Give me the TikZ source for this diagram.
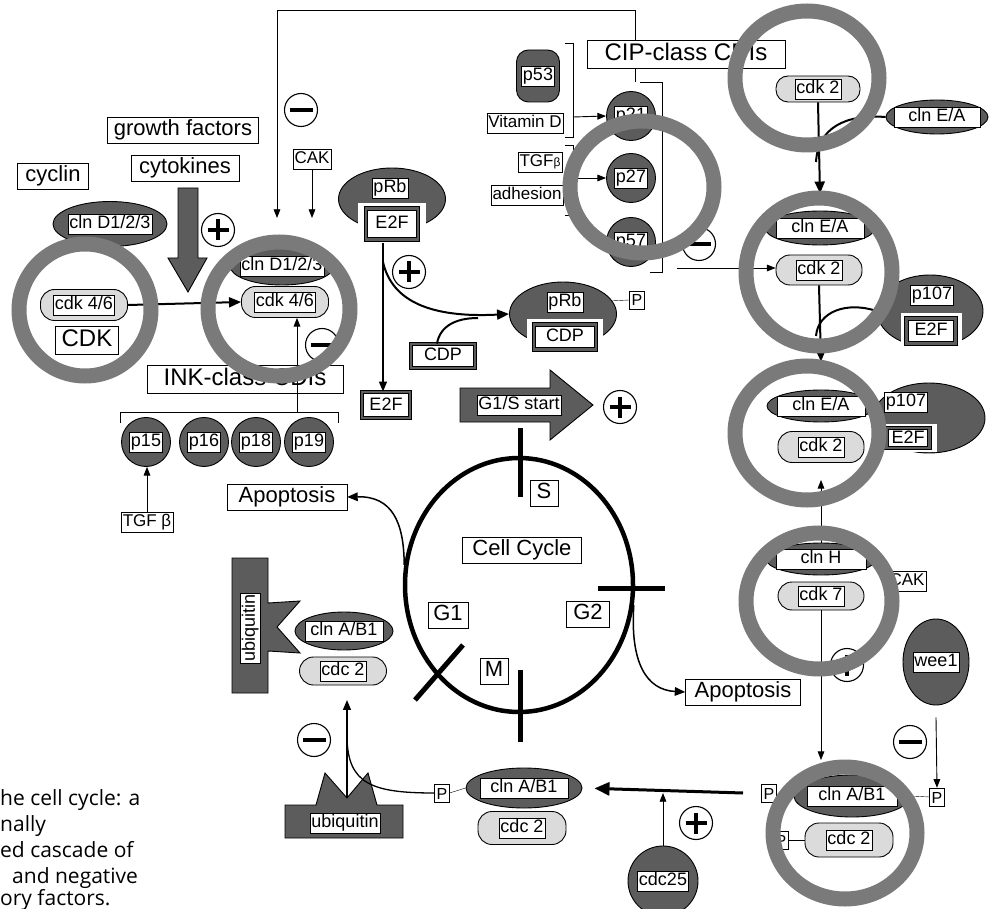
\documentclass[tikz,border=0pt]{standalone}
\usepackage{fontspec}
\setmainfont{Liberation Sans}
\newfontfamily\capfont{Open Sans}
\usetikzlibrary{shapes.geometric,arrows.meta}
\definecolor{dk}{gray}{0.36}
\definecolor{lt}{gray}{0.86}
\definecolor{ringc}{gray}{0.48}

\begin{document}
\begin{tikzpicture}[x=1pt, y=-1pt,
	cyclin/.style={ ellipse, draw, fill=dk, line width=0.9pt, inner sep=0pt },
	cdk/.style={ rectangle, rounded corners=14pt, draw, fill=lt, line width=0.9pt, minimum width=87pt, minimum height=31pt },
	ball/.style={ circle, draw, fill=dk, line width=0.9pt, inner sep=0pt, minimum size=49pt },
	tag/.style={ draw, fill=white, inner sep=1.5pt, text height=13pt, text depth=3.5pt, font=\fontsize{18}{18}\selectfont },
	sml/.style={ tag, font=\fontsize{17}{17}\selectfont },
	ptag/.style={ draw, fill=white, inner xsep=2pt, inner ysep=3pt, text height=12pt, text depth=0pt, font=\fontsize{16}{16}\selectfont },
	lbl/.style={ draw, fill=white, inner xsep=3pt, inner ysep=2.5pt, text height=16pt, text depth=4.5pt, font=\fontsize{22}{22}\selectfont },
	big/.style={ lbl, text height=17.5pt, text depth=5pt, font=\fontsize{24}{24}\selectfont },
	dbl/.style={ draw, double=dk, double distance=2.6pt, line width=0.8pt, fill=white, inner sep=2pt, text height=13pt, text depth=3pt, font=\fontsize{18}{18}\selectfont },
	sgnp/.style={ circle, draw, fill=white, line width=1.1pt, minimum size=33pt, inner sep=0pt,
		path picture={\draw[line width=3.5pt] ([yshift=-6pt]path picture bounding box.north) -- ([yshift=6pt]path picture bounding box.south) ([xshift=6pt]path picture bounding box.west) -- ([xshift=-6pt]path picture bounding box.east);} },
	sgnm/.style={ circle, draw, fill=white, line width=1.1pt, minimum size=33pt, inner sep=0pt,
		path picture={\draw[line width=3.5pt] ([xshift=5pt]path picture bounding box.west) -- ([xshift=-5pt]path picture bounding box.east);} },
	arr/.style={ -{Triangle[length=6pt 3, width=4pt 3]}, line width=0.9pt },
	heavy/.style={ line width=2pt },
	phase/.style={ line width=5pt },
	bigarr/.style={ draw, fill=dk, line width=0.9pt },
	ring/.style={ draw=ringc, line width=15pt },
	capt/.style={ anchor=base west, inner sep=0pt, font=\capfont\fontsize{21}{21}\selectfont }
]
\fill [white] (0,0) rectangle (991,909);
\useasboundingbox (0,0) rectangle (991,909);

% cyclin D / cdk 4/6
\node at (53,176) (cyc) [lbl, minimum width=71pt] {cyclin};
\node at (183,130) (gf) [lbl, minimum width=151pt] {growth factors};
\node at (185,168) (cyto) [lbl, minimum width=108pt] {cytokines};
\draw [bigarr] (178,188) -- (198,188) -- (198,258) -- (207,258) -- (188,292) -- (168,258) -- (178,258) -- cycle;
\node at (218,230) (plA) [sgnp] {};
\node at (110,224) (clnD) [cyclin, minimum width=114pt, minimum height=45pt] {};
\node at (clnD) (clnDt) [tag] {cln D1/2/3};
\node at (84,305) (cdkA) [cdk] {};
\node at (cdkA) (cdkAt) [tag] {cdk 4/6};
\node at (87,340) (cdkL) [big, minimum width=63pt] {CDK};

\node at (282,266) (clnD2) [cyclin, minimum width=104pt, minimum height=38pt] {};
\node at (clnD2) (clnD2t) [tag] {cln D1/2/3};
\node at (285,302) (cdkB) [cdk] {};
\node at (cdkB) (cdkBt) [tag] {cdk 4/6};
\draw [arr, heavy] (cdkA.east) -- (cdkB.west);
\node at (301,110) (miA) [sgnm] {};
\node at (312,159) (cakA) [sml] {CAK};
\coordinate (topin) at (277,218);
\draw [arr] (cakA.south) -- (cakA.south |- topin);
\node at (322,345) (miB) [sgnm] {};

% INK-class inhibitors
\node at (245,379) (ink) [big, minimum width=196pt] {INK-class CDIs};
\draw (120,423) -- (120,412) -- (338,412) -- (338,423);
\coordinate (inkup) at (297,412);
\draw [arr] (inkup) -- (inkup |- cdkB.south);
\node at (146,442) (p15) [ball] {};
\node at (p15) (p15t) [tag] {p15};
\node at (204,442) (p16) [ball] {};
\node at (p16) (p16t) [tag] {p16};
\node at (256,442) (p18) [ball] {};
\node at (p18) (p18t) [tag] {p18};
\node at (309,442) (p19) [ball] {};
\node at (p19) (p19t) [tag] {p19};
\node at (147,522) (tgfA) [sml] {TGF β};
\draw [arr] (tgfA.north) -- (tgfA.north |- p15.south);
\node at (287,497) (apoL) [lbl, minimum width=120pt] {Apoptosis};

% pRb / E2F
\node at (392,199) (prbA) [cyclin, minimum width=107pt, minimum height=62pt] {};
\fill [white] (358,203) rectangle (426,246);
\node at (392,224) (e2fA) [dbl, minimum width=52pt, minimum height=31pt] {E2F};
\node at (390,188) (prbAt) [tag] {pRb};
\node at (386,405) (e2fB) [dbl, minimum width=48pt, minimum height=26pt] {E2F};
\node at (409,272) (plB) [sgnp] {};
\node at (443,356) (cdpA) [dbl, minimum width=64pt, minimum height=24pt] {CDP};
\node at (563,314) (prbB) [cyclin, minimum width=107pt, minimum height=64pt] {};
\fill [white] (527,319) rectangle (603,355);
\node at (565,337) (cdpB) [dbl, minimum width=62pt, minimum height=25pt] {CDP};
\node at (565,302) (prbBt) [tag] {pRb};
\node at (637,300) (pA) [ptag] {P};
\draw (prbB.15) -- (pA.west);
\coordinate (rbtop) at (383,243);
\coordinate (rbsplit) at (383,262);
\draw [arr, line width=1.3pt] (rbtop) -- (rbtop |- e2fB.north);
\draw [arr, heavy] (rbsplit) .. controls (392,302) and (432,318) .. (prbB.west);
\draw [heavy] ([xshift=-6pt]cdpA.north) .. controls (440,326) and (456,318) .. (478,318);

\draw [bigarr] (460,388) -- (550,388) -- (550,370) -- (593,405) -- (550,440) -- (550,422) -- (460,422) -- cycle;
\node at (519,405) (g1s) [tag] {G1/S start};
\node at (620,407) (plC) [sgnp] {};

% CIP-class inhibitors
\node at (538,76) (p53) [rectangle, rounded corners=12pt, draw, fill=dk, line width=0.9pt, minimum width=43pt, minimum height=52pt] {};
\node at (p53) (p53t) [tag] {p53};
\node at (525,123) (vitD) [sml] {Vitamin D};
\draw (565,43) -- (573,43) -- (573,137) -- (565,137);
\coordinate (brA) at (573,117);
\node at (540,162) (tgfB) [sml] {TGF{\fontsize{12}{12}\selectfont β}};
\node at (527,195) (adh) [sml] {adhesion};
\draw (565,145) -- (573,145) -- (573,215) -- (565,215);
\coordinate (brB) at (573,178);
\node at (631,116) (p21) [ball] {};
\node at (p21) (p21t) [tag] {p21};
\node at (631,178) (p27) [ball] {};
\node at (p27) (p27t) [tag] {p27};
\node at (631,242) (p57) [ball] {};
\node at (p57) (p57t) [tag] {p57};
\draw [arr] (brA) -- (p21.west);
\draw [arr] (brB) -- (p27.west);
\draw (640,82) -- (662,82) -- (662,272) -- (650,272);
\node at (686,54) (cip) [big, minimum width=198pt] {CIP-class CDIs};
\coordinate (cipbr) at (635,82);
\draw (cipbr) -- (cipbr |- cip.south);
\draw [arr] (cipbr |- cip.north) -- ++(0,-30) -| (topin);
\node at (699,244) (miC) [sgnm] {};

% cdk 2 column
\node at (818,89) (cdkC) [cdk, minimum width=84pt, minimum height=26pt, rounded corners=12pt] {};
\node at (cdkC) (cdkCt) [tag] {cdk 2};
\node at (937,117) (clnEA) [cyclin, minimum width=102pt, minimum height=34pt] {};
\node at (clnEA) (clnEAt) [tag, minimum width=86pt] {cln E/A};
\node at (820,228) (clnEB) [cyclin, minimum width=110pt, minimum height=34pt] {};
\node at (clnEB) (clnEBt) [tag, minimum width=88pt] {cln E/A};
\node at (819,270) (cdkD) [cdk, minimum width=86pt, minimum height=30pt] {};
\node at (cdkD) (cdkDt) [tag] {cdk 2};
\draw [arr, heavy] (cdkC.south) -- ([yshift=17pt]clnEB.north);
\draw [heavy] (clnEA.west) .. controls (845,114) and (818,128) .. (816,162);
\coordinate (cipout) at (677,268);
\draw [arr] (cipout) -- (cipout -| cdkD.west);

\node at (930,311) (p107A) [cyclin, minimum width=106pt, minimum height=72pt] {};
\fill [white] (901,313) rectangle (962,349);
\node at (931,331) (e2fC) [dbl, minimum width=49pt, minimum height=25pt] {E2F};
\node at (932,295) (p107At) [tag] {p107};
\draw [heavy] (p107A.west) .. controls (846,301) and (818,312) .. (816,336);

\node at (929,418) (p107B) [cyclin, minimum width=112pt, minimum height=70pt] {};
\fill [white] (880,424) rectangle (937,452);
\node at (908,438) (e2fD) [dbl, minimum width=43pt, minimum height=18pt] {E2F};
\node at (906,402) (p107Bt) [tag] {p107};
\node at (821,406) (clnEC) [cyclin, minimum width=108pt, minimum height=32pt] {};
\node at (clnEC) (clnECt) [tag, minimum width=88pt] {cln E/A};
\node at (821,447) (cdkE) [cdk, minimum width=86pt, minimum height=31pt] {};
\node at (cdkE) (cdkEt) [tag] {cdk 2};
\draw [arr, heavy] (cdkD.south) -- ([yshift=28pt]clnEC.north);

\node at (821,559) (clnH) [cyclin, minimum width=110pt, minimum height=32pt] {};
\node at (clnH) (clnHt) [tag, minimum width=90pt] {cln H};
\node at (821,596) (cdk7) [cdk, minimum width=86pt, minimum height=28pt] {};
\node at (cdk7) (cdk7t) [tag] {cdk 7};
\node at (907,581) (cakB) [sml] {CAK};
\draw [arr] (clnH.north) -- ([yshift=-17pt]cdkE.south);
\coordinate (hin) at (821,760);
\draw [arr] (cdk7.south) -- (hin);
\node at (847,665) (plD) [sgnp] {};
\node at (936,662) (wee1) [cyclin, minimum width=66pt, minimum height=86pt] {};
\node at (wee1) (wee1t) [tag] {wee1};
\node at (910,742) (miD) [sgnm] {};

% cdc 2 / cyclin B
\node at (852,796) (clnAB2) [cyclin, minimum width=116pt, minimum height=42pt] {};
\node at (clnAB2) (clnAB2t) [tag, minimum width=90pt] {cln A/B1};
\node at (849,840) (cdcB) [cdk, minimum width=88pt, minimum height=34pt] {};
\node at (cdcB) (cdcBt) [tag] {cdc 2};
\node at (937,797) (pR) [ptag] {P};
\node at (769,793) (pL2) [ptag] {P};
\node at (781,840) (pL3) [ptag] {P};
\draw (pL3.east) -- (cdcB.west);
\draw (clnAB2.east) -- (pR.west);
\draw [arr] ([yshift=-12pt]wee1.south) -- (pR.north);

\node at (524,788) (clnAB1) [cyclin, minimum width=116pt, minimum height=40pt] {};
\node at (clnAB1) (clnAB1t) [tag, minimum width=88pt] {cln A/B1};
\node at (522,828) (cdcA) [cdk, minimum width=88pt, minimum height=33pt] {};
\node at (cdcA) (cdcAt) [tag] {cdc 2};
\node at (442,793) (pL) [ptag] {P};
\draw (pL.east) -- (clnAB1.west);
\coordinate (bigtail) at (743,793);
\draw [arr, line width=3pt, shorten >=12pt] (bigtail) -- (clnAB1.east);
\node at (663,881) (cdc25) [ball, minimum size=70pt] {};
\node at (cdc25) (cdc25t) [tag] {cdc25};
\draw [arr] (cdc25.north) -- (cdc25.north |- bigtail);
\node at (696,823) (plE) [sgnp] {};

% ubiquitin
\draw [bigarr] (232,558) -- (268,558) -- (268,603) -- (300,601) -- (277,627) -- (300,653) -- (268,651) -- (268,693) -- (232,693) -- cycle;
\node at (250,628) (ubA) [tag, rotate=90] {ubiquitin};
\node at (344,631) (clnAB0) [cyclin, minimum width=98pt, minimum height=38pt] {};
\node at (clnAB0) (clnAB0t) [tag, minimum width=78pt] {cln A/B1};
\node at (343,671) (cdc0) [cdk, minimum width=87pt, minimum height=28pt] {};
\node at (cdc0) (cdc0t) [tag] {cdc 2};
\draw [bigarr] (285,805) -- (316,805) -- (325,773) -- (347,798) -- (368,773) -- (377,805) -- (403,805) -- (403,838) -- (285,838) -- cycle;
\node at (345,823) (ubB) [tag] {ubiquitin};
\coordinate (ubv) at (347,798);
\coordinate (ubtip) at (347,700);
\draw [arr, line width=1.3pt] (ubv) -- (ubtip);
\node at (314,740) (miE) [sgnm] {};
\draw [line width=1.3pt] (pL.west) .. controls (372,793) and (348,784) .. (347,738);

% cell cycle
\node at (519,585) (cc) [ellipse, draw, line width=4.5pt, minimum width=228pt, minimum height=254pt, inner sep=0pt] {};
\draw [phase] (520,428) -- (520,497);
\draw [phase] (598,588) -- (665,588);
\draw [phase] (520,670) -- (520,742);
\draw [phase] (415,700) -- (463,645);
\node at (522,550) (ccl) [lbl, minimum width=119pt] {Cell Cycle};
\node at (544,493) (phS) [lbl, minimum width=28pt] {S};
\node at (448,615) (phG1) [lbl, minimum width=40pt] {G1};
\node at (588,614) (phG2) [lbl, minimum width=43pt] {G2};
\node at (494,671) (phM) [lbl, minimum width=28pt] {M};
\node at (743,692) (apoR) [lbl, minimum width=115pt] {Apoptosis};
\draw [arr, line width=1.5pt] (cc.-10) .. controls (630,662) and (646,690) .. (apoR.west);
\draw [arr, line width=1.5pt] (cc.170) .. controls (404,522) and (392,496) .. (apoL.east);

% caption
\node at (0,805) (capA) [capt] {he cell cycle: a};
\node at (0,831) (capB) [capt] {nally};
\node at (0,857) (capC) [capt] {ed cascade of};
\node at (12,883) (capD) [capt] {and negative};
\node at (0,905) (capE) [capt] {ory factors.};

% highlight rings
\draw [ring] (85,310) circle [radius=66pt];
\draw [ring] (279,309) ellipse [x radius=71pt, y radius=67pt];
\draw [ring] (642,187) ellipse [x radius=72pt, y radius=66pt];
\draw [ring] (807,78) ellipse [x radius=72pt, y radius=67pt];
\draw [ring] (819,272) ellipse [x radius=73pt, y radius=74pt];
\draw [ring] (807,433) ellipse [x radius=72pt, y radius=67pt];
\draw [ring] (819,601) ellipse [x radius=73pt, y radius=68pt];
\draw [ring] (845,833) ellipse [x radius=72pt, y radius=66pt];

\end{tikzpicture}
\end{document}
